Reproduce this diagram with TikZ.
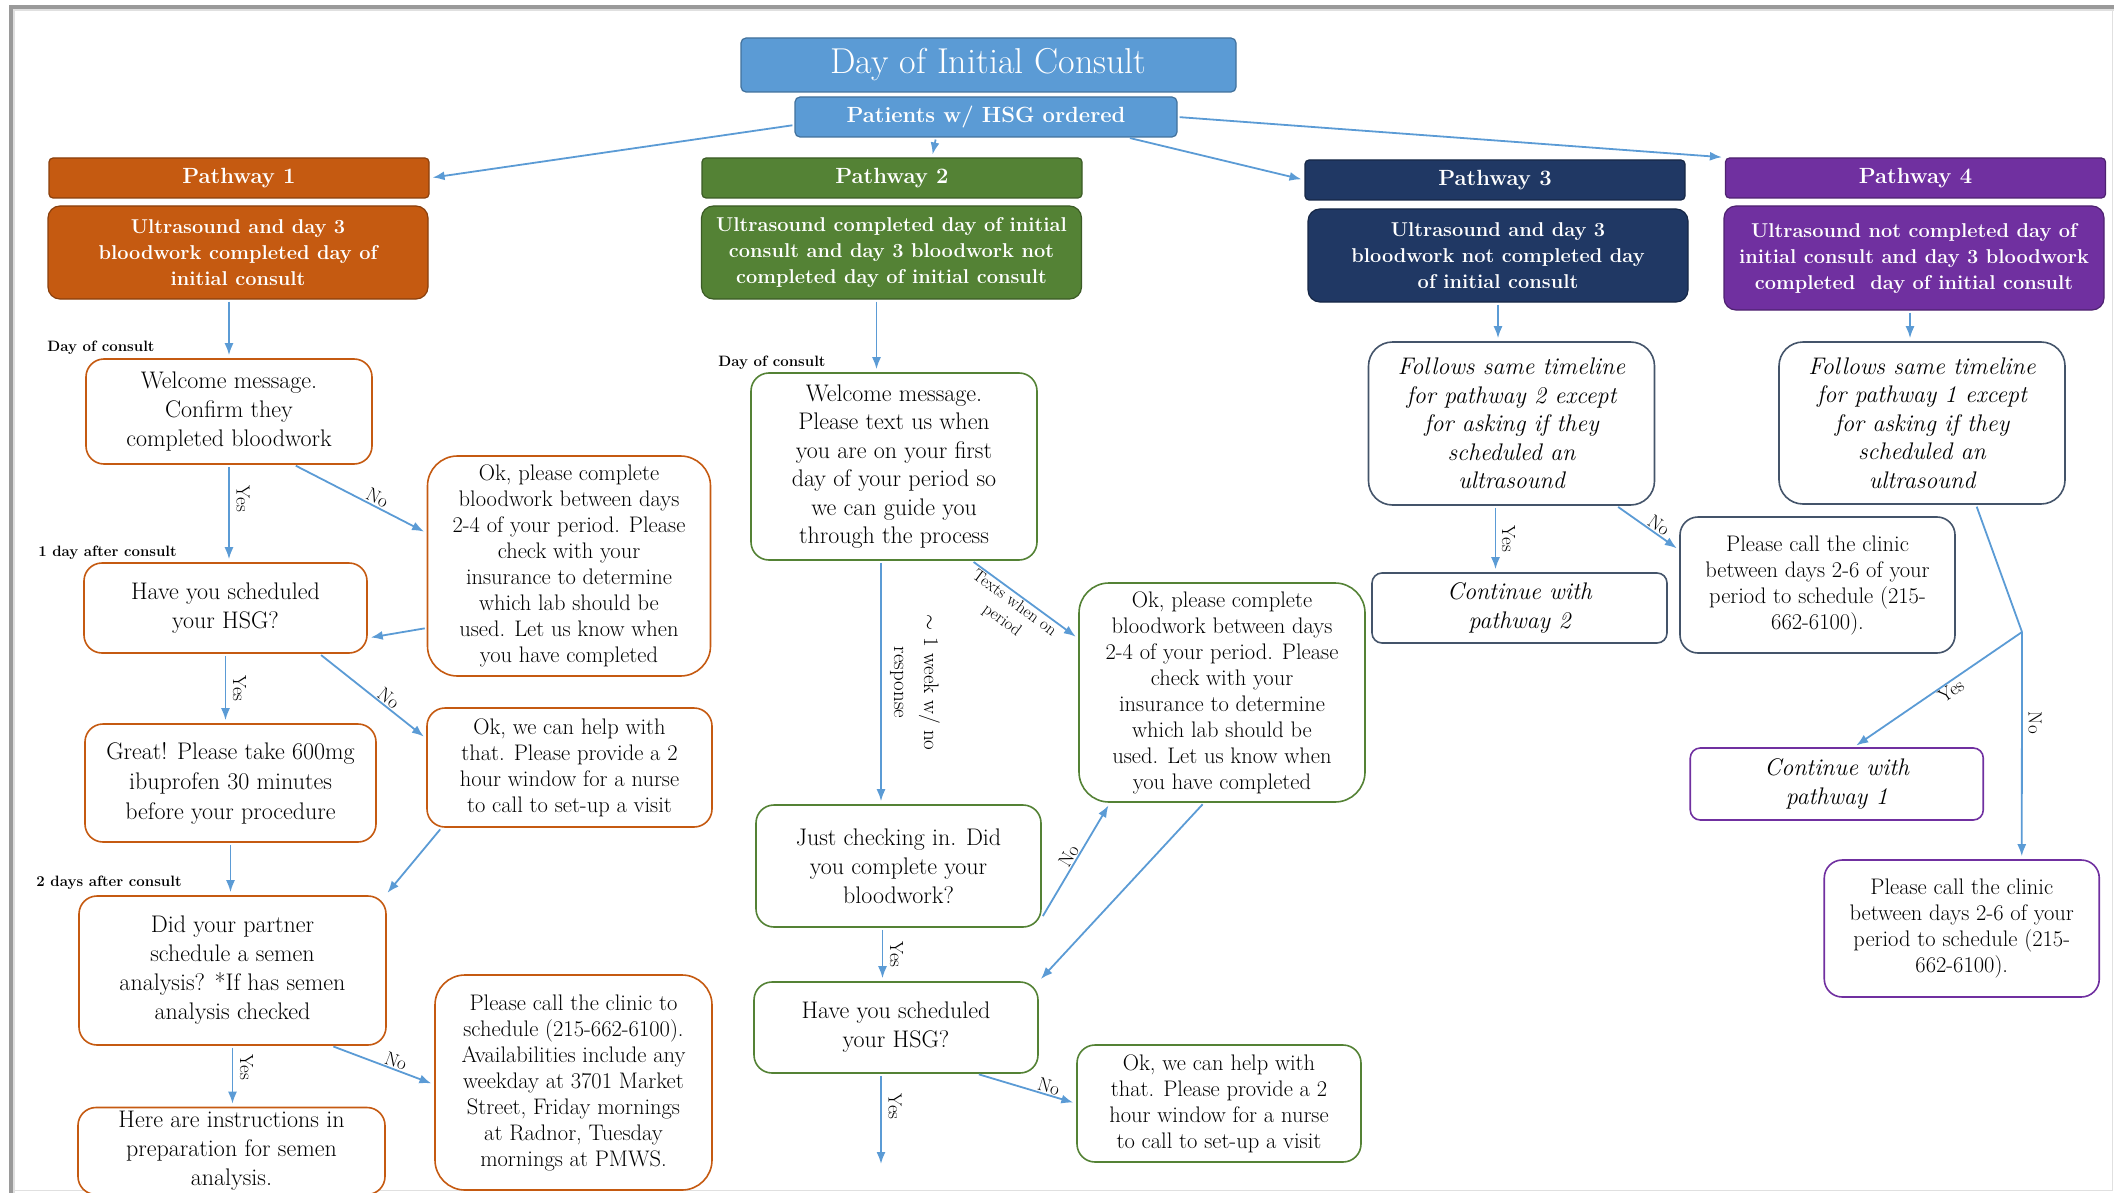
\documentclass[tikz,border=0pt]{standalone}
\usepackage{fontspec}
\usetikzlibrary{arrows.meta, positioning, calc}

\definecolor{topblue}{HTML}{5B9BD5}
\definecolor{topline}{HTML}{41719C}
\definecolor{pwone}{HTML}{C55A11}
\definecolor{pwtwo}{HTML}{548235}
\definecolor{pwthree}{HTML}{203864}
\definecolor{pwfour}{HTML}{7030A0}
\definecolor{navyline}{HTML}{44546A}
\definecolor{linkblue}{HTML}{5B9BD5}
\definecolor{framegray}{HTML}{9A9A9A}

\begin{document}
\begin{tikzpicture}[
    x=1pt, y=-1pt,
    topbox/.style={draw=topline, fill=topblue, rounded corners=5pt, text=white,
                   align=center, inner sep=0pt, line width=1.2pt},
    pwhead/.style={draw=#1!70!black, fill=#1, rounded corners=4pt, text=white,
                   font=\fontsize{22}{26}\selectfont\bfseries,
                   minimum width=380pt, minimum height=40pt, inner sep=0pt, line width=1.2pt},
    pwdesc/.style={draw=#1!70!black, fill=#1, rounded corners=12pt, text=white, align=center,
                   font=\fontsize{20}{26}\selectfont\bfseries,
                   minimum width=380pt, minimum height=93pt, inner sep=0pt, line width=1.2pt},
    msg/.style={draw=#1, fill=white, rounded corners=18pt, align=center,
                inner sep=0pt, line width=1.6pt},
    txtl/.style={font=\fontsize{24}{29}\selectfont},
    txts/.style={font=\fontsize{22.5}{26}\selectfont},
    ital/.style={font=\fontsize{24}{28.5}\selectfont\itshape},
    daylbl/.style={font=\fontsize{15}{18}\selectfont\bfseries, inner sep=0pt},
    flow/.style={-{Latex[length=12pt, width=9pt]}, linkblue, line width=1.8pt,
                 shorten <=2pt, shorten >=3pt},
    yn/.style={text=black, font=\fontsize{19}{22}\selectfont, inner sep=1pt},
    note/.style={text=black, font=\fontsize{17}{21}\selectfont, align=center, inner sep=1pt},
]
    \useasboundingbox (0,0) rectangle (2114,1193);

    % --- page frame ---
    \draw[framegray, line width=4pt] (11,1193) -- (11,7) -- (2114,7);
    \draw[black!12, line width=2pt] (14,1193) -- (14,10) -- (2114,10);
    \draw[black!12, line width=1.5pt] (2112.5,10) -- (2112.5,1190.5) -- (14,1190.5);

    % --- Top of the chart ---
    \node[topbox, minimum width=495pt, minimum height=54pt, font=\fontsize{36}{40}\selectfont]
        (consult) at (988.5,65) {Day of Initial Consult};
    \node[topbox, minimum width=382pt, minimum height=40pt, font=\fontsize{22}{26}\selectfont\bfseries]
        (patients) at (986,117) {Patients w/ HSG ordered};

    % --- Pathway headers and descriptions ---
    \node[pwhead=pwone]   (pw1) at (239,178)    {Pathway 1};
    \node[pwhead=pwtwo]   (pw2) at (892,178)    {Pathway 2};
    \node[pwhead=pwthree] (pw3) at (1495,180)   {Pathway 3};
    \node[pwhead=pwfour]  (pw4) at (1915.5,178) {Pathway 4};

    \node[pwdesc=pwone]   (desc1) at (238,252.5)   {Ultrasound and day 3\\bloodwork completed day of\\initial consult};
    \node[pwdesc=pwtwo]   (desc2) at (891.5,252.5) {Ultrasound completed day of initial\\consult and day 3 bloodwork not\\completed day of initial consult};
    \node[pwdesc=pwthree] (desc3) at (1498,255.5)  {Ultrasound and day 3\\bloodwork not completed day\\of initial consult};
    \node[pwdesc=pwfour, minimum height=104pt] (desc4) at (1914,258) {Ultrasound not completed day of\\initial consult and day 3 bloodwork\\completed\ \ day of initial consult};

    \draw[flow] ([yshift=-8pt]patients.west) -- (pw1.east);
    \draw[flow] ([xshift=-50pt]patients.south) -- ([xshift=40pt]pw2.north);
    \draw[flow] ([xshift=142pt]patients.south) -- (pw3.west);
    \draw[flow] (patients.east) -- (pw4.north west);

    % --- Pathway 1 ---
    \node[daylbl] (dc1) at (101,348) {Day of consult};
    \node[msg=pwone, txtl, minimum width=286pt, minimum height=105pt] (wel1) at (229,411.5)
        {Welcome message.\\Confirm they\\completed bloodwork};
    \node[msg=pwone, txts, rounded corners=30pt, minimum width=283pt, minimum height=220pt] (blood1) at (569,566)
        {Ok, please complete\\bloodwork between days\\2-4 of your period. Please\\check with your\\insurance to determine\\which lab should be\\used. Let us know when\\you have completed};
    \node[daylbl] (da1) at (107.5,553) {1 day after consult};
    \node[msg=pwone, txtl, minimum width=283pt, minimum height=90pt] (sched1) at (225.5,608)
        {Have you scheduled\\your HSG?};
    \node[msg=pwone, font=\fontsize{24}{30}\selectfont, minimum width=291pt, minimum height=118pt] (great1) at (230.5,783)
        {Great! Please take 600mg\\ibuprofen 30 minutes\\before your procedure};
    \node[msg=pwone, txts, minimum width=285pt, minimum height=119pt] (help1) at (569.5,767.5)
        {Ok, we can help with\\that. Please provide a 2\\hour window for a nurse\\to call to set-up a visit};
    \node[daylbl] (dd1) at (109,883) {2 days after consult};
    \node[msg=pwone, txtl, minimum width=307pt, minimum height=149pt] (semen1) at (232.5,970.5)
        {Did your partner\\schedule a semen\\analysis? *If has semen\\analysis checked};
    \node[msg=pwone, txts, rounded corners=30pt, minimum width=277pt, minimum height=215pt] (call1) at (573.5,1082.5)
        {Please call the clinic to\\schedule (215-662-6100).\\Availabilities include any\\weekday at 3701 Market\\Street, Friday mornings\\at Radnor, Tuesday\\mornings at PMWS.};
    \node[msg=pwone, txtl, minimum width=307pt, minimum height=87pt] (instr1) at (231.5,1151)
        {Here are instructions in\\preparation for semen\\analysis.};

    \draw[flow] (desc1.south -| wel1.north) -- (wel1.north);
    \draw[flow] (wel1.south) -- node[yn, pos=0.35, xshift=14pt, rotate=-90]{Yes} (wel1.south |- sched1.north);
    \draw[flow] ([xshift=65pt]wel1.south) -- node[yn, sloped, above, pos=0.6]{No} ([yshift=33pt]blood1.west);
    \draw[flow] ([yshift=-62pt]blood1.west) -- ([yshift=-30pt]sched1.east);
    \draw[flow] (sched1.south) -- node[yn, xshift=14pt, rotate=-90]{Yes} (sched1.south |- great1.north);
    \draw[flow] ([xshift=94pt]sched1.south) -- node[yn, sloped, above, pos=0.6]{No} ([yshift=29pt]help1.west);
    \draw[flow] (great1.south) -- (great1.south |- semen1.north);
    \draw[flow] ([xshift=-128pt]help1.south) -- ([xshift=153pt]semen1.north);
    \draw[flow] (semen1.south) -- node[yn, pos=0.35, xshift=14pt, rotate=-90]{Yes} (semen1.south |- instr1.north);
    \draw[flow] ([xshift=99pt]semen1.south) -- node[yn, sloped, above, pos=0.6]{No} ([yshift=-2pt]call1.west);

    % --- Pathway 2 ---
    \node[daylbl] (dc2) at (772,363) {Day of consult};
    \node[msg=pwtwo, font=\fontsize{24}{28.5}\selectfont, minimum width=286pt, minimum height=187pt] (wel2) at (894,466.5)
        {Welcome message.\\Please text us when\\you are on your first\\day of your period so\\we can guide you\\through the process};
    \node[msg=pwtwo, txts, rounded corners=30pt, minimum width=286pt, minimum height=219pt] (blood2) at (1222,692.5)
        {Ok, please complete\\bloodwork between days\\2-4 of your period. Please\\check with your\\insurance to determine\\which lab should be\\used. Let us know when\\you have completed};
    \node[msg=pwtwo, txtl, minimum width=285pt, minimum height=122pt] (check2) at (898.5,866)
        {Just checking in. Did\\you complete your\\bloodwork?};
    \node[msg=pwtwo, txtl, minimum width=284pt, minimum height=91pt] (sched2) at (896,1027.5)
        {Have you scheduled\\your HSG?};
    \node[msg=pwtwo, txts, minimum width=284pt, minimum height=117pt] (help2) at (1219,1103.5)
        {Ok, we can help with\\that. Please provide a 2\\hour window for a nurse\\to call to set-up a visit};
    \coordinate (end2) at (881,1167);

    \draw[flow] ([xshift=-15pt]desc2.south) -- ([xshift=-15pt]desc2.south |- wel2.north);
    \draw[flow] ([xshift=-13pt]wel2.south) -- node[note, font=\fontsize{21}{30}\selectfont, xshift=34pt, rotate=-90]{$\sim$ 1 week w/ no\\response} ([xshift=-13pt]wel2.south |- check2.north);
    \draw[flow] ([xshift=78pt]wel2.south) -- node[note, sloped, below, pos=0.45]{Texts when on\\period} ([yshift=54pt]blood2.west);
    \draw[flow] ([yshift=10pt]check2.south east) -- node[yn, sloped, above]{No} ([xshift=-112pt]blood2.south);
    \draw[flow] ([xshift=-18pt]blood2.south) -- (sched2.north east);
    \draw[flow] ([xshift=-16pt]check2.south) -- node[yn, xshift=14pt, rotate=-90]{Yes} ([xshift=-16pt]check2.south |- sched2.north);
    \draw[flow] ([xshift=-15pt]sched2.south) -- node[yn, pos=0.35, xshift=14pt, rotate=-90]{Yes} (end2);
    \draw[flow] ([xshift=81pt]sched2.south) -- node[yn, sloped, above, pos=0.7]{No} (help2.west);

    % --- Pathway 3 ---
    \node[msg=navyline, ital, rounded corners=24pt, minimum width=286pt, minimum height=163pt] (same3) at (1511.5,423.5)
        {Follows same timeline\\for pathway 2 except\\for asking if they\\scheduled an\\ultrasound};
    \node[msg=navyline, ital, rounded corners=10pt, minimum width=295pt, minimum height=70pt] (cont2) at (1519.5,608)
        {Continue with\\pathway 2};
    \node[msg=navyline, txts, minimum width=275pt, minimum height=136pt] (call3) at (1817.5,585)
        {Please call the clinic\\between days 2-6 of your\\period to schedule (215-\\662-6100).};

    \draw[flow] (desc3.south) -- (desc3.south |- same3.north);
    \draw[flow] ([xshift=-16pt]same3.south) -- node[yn, xshift=13pt, rotate=-90]{Yes} ([xshift=-16pt]same3.south |- cont2.north);
    \draw[flow] ([xshift=105pt]same3.south) -- node[yn, sloped, above, pos=0.6]{No} ([yshift=35pt]call3.west);

    % --- Pathway 4 ---
    \node[msg=navyline, ital, rounded corners=24pt, minimum width=286pt, minimum height=162pt] (same4) at (1922,423)
        {Follows same timeline\\for pathway 1 except\\for asking if they\\scheduled an\\ultrasound};
    \node[msg=pwfour, ital, rounded corners=10pt, minimum width=293pt, minimum height=72pt] (cont1) at (1836.75,784)
        {Continue with\\pathway 1};
    \node[msg=pwfour, txts, minimum width=275pt, minimum height=137pt] (call4) at (1961.75,928.5)
        {Please call the clinic\\between days 2-6 of your\\period to schedule (215-\\662-6100).};
    \coordinate (split4) at (2022,632);

    \draw[flow] ([xshift=-4pt]desc4.south) -- ([xshift=-4pt]desc4.south |- same4.north);
    \draw[linkblue, line width=1.8pt, shorten <=2pt] ([xshift=54pt]same4.south) -- (split4);
    \draw[flow, shorten <=0pt] (split4) -- node[yn, sloped, below, pos=0.45]{Yes} ([xshift=17pt]cont1.north);
    \draw[flow, shorten <=0pt] (split4) -- node[yn, pos=0.4, xshift=13pt, rotate=-90]{No} ([xshift=60pt]call4.north);
\end{tikzpicture}
\end{document}
